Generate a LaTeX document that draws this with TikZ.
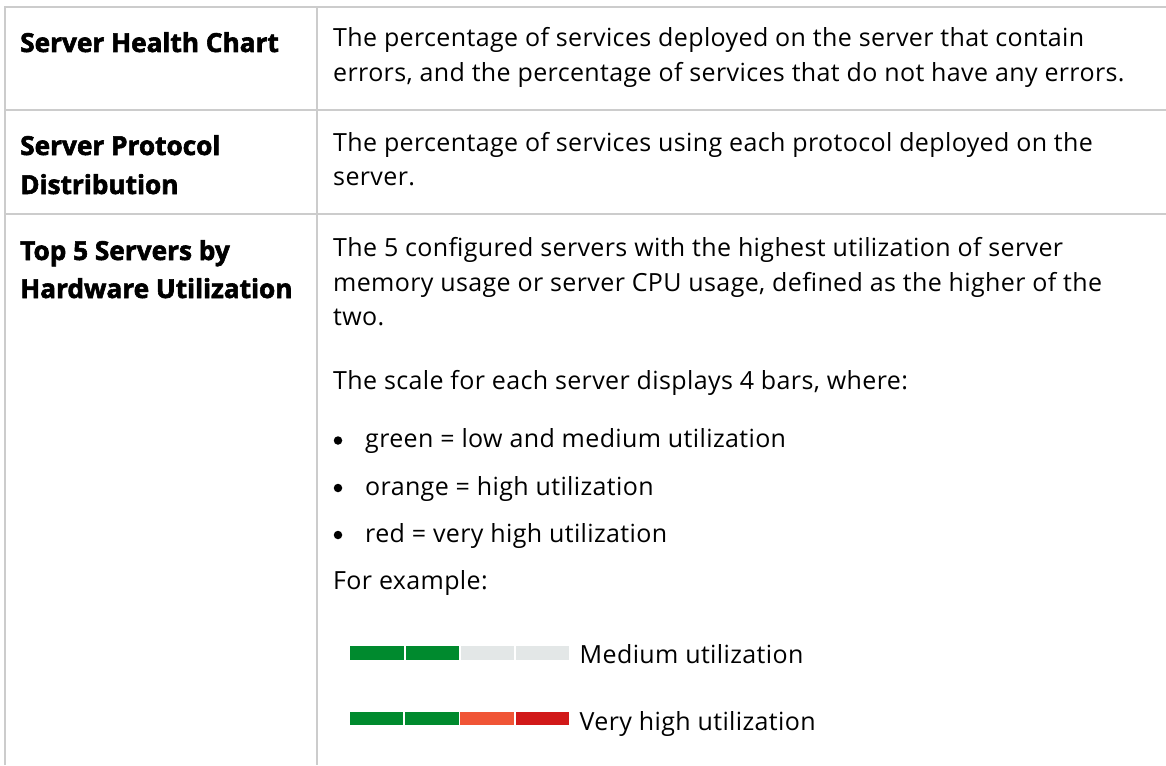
\documentclass[tikz,border=0pt]{standalone}
\usepackage{fontspec}
\setmainfont{Open Sans}[BoldFeatures={FakeBold=2.2}]
\definecolor{rule}{HTML}{CCCCCC}
\definecolor{lowbar}{HTML}{008A2E}
\definecolor{offbar}{HTML}{E3E7E7}
\definecolor{highbar}{HTML}{F05536}
\definecolor{vhighbar}{HTML}{D11919}
\tikzset{
  gridline/.style={draw=rule, line width=2pt},
  body/.style={anchor=base west, inner sep=0pt, font=\addfontfeature{LetterSpace=1.5}\fontsize{25}{25}\selectfont},
  head/.style={anchor=base west, inner sep=0pt, font=\bfseries\fontsize{26.2}{26.2}\selectfont},
  bullet/.style={circle, fill=black, inner sep=0pt, minimum size=8.5pt},
  seg/.style={inner sep=0pt, outer sep=0pt, minimum width=53.5pt, minimum height=13.5pt, anchor=west},
}
\begin{document}
\begin{tikzpicture}[x=1pt, y=-1pt]
\useasboundingbox (0,0) rectangle (1166,765);

% table rules
\draw[gridline] (5,765) -- (5,7) -- (1166,7);
\draw[gridline] (316.5,7) -- (316.5,765);
\draw[gridline] (5,110) -- (1166,110);
\draw[gridline] (5,214) -- (1166,214);

% row 1
\node[head] (h1) at (20,52) {Server Health Chart};
\node[body] (b1a) at (333,47) {The percentage of services deployed on the server that contain};
\node[body] (b1b) at (333,81.5) {errors, and the percentage of services that do not have any errors.};

% row 2
\node[head] (h2a) at (20,155) {Server Protocol};
\node[head] (h2b) at (20,194) {Distribution};
\node[body] (b2a) at (333,151) {The percentage of services using each protocol deployed on the};
\node[body] (b2b) at (333,185.5) {server.};

% row 3
\node[head] (h3a) at (20,260) {Top 5 Servers by};
\node[head] (h3b) at (20,298) {Hardware Utilization};
\node[body] (b3a) at (333,256.5) {The 5 configured servers with the highest utilization of server};
\node[body] (b3b) at (333,291) {memory usage or server CPU usage, defined as the higher of the};
\node[body] (b3c) at (333,325.5) {two.};
\node[body] (b3d) at (333,389.5) {The scale for each server displays 4 bars, where:};

\node[bullet] (d1) at (338,440.5) {};
\node[body] (l1) at (365,447.5) {green = low and medium utilization};
\node[bullet] (d2) at (338,488) {};
\node[body] (l2) at (365,495) {orange = high utilization};
\node[bullet] (d3) at (338,535) {};
\node[body] (l3) at (365,542) {red = very high utilization};
\node[body] (ex) at (333,589.5) {For example:};

% example scale: medium
\node[seg, fill=lowbar]  (m1) at (350,653) {};
\node[seg, fill=lowbar]  (m2) at (405.5,653) {};
\node[seg, fill=offbar]  (m3) at (460.5,653) {};
\node[seg, fill=offbar]  (m4) at (515.8,653) {};
\node[body] (mt) at (579.5,663.5) {Medium utilization};

% example scale: very high
\node[seg, fill=lowbar]   (v1) at (349.8,718.3) {};
\node[seg, fill=lowbar]   (v2) at (405.3,718.3) {};
\node[seg, fill=highbar]  (v3) at (460.3,718.3) {};
\node[seg, fill=vhighbar] (v4) at (515.8,718.3) {};
\node[body] (vt) at (579.5,730) {Very high utilization};
\end{tikzpicture}
\end{document}
